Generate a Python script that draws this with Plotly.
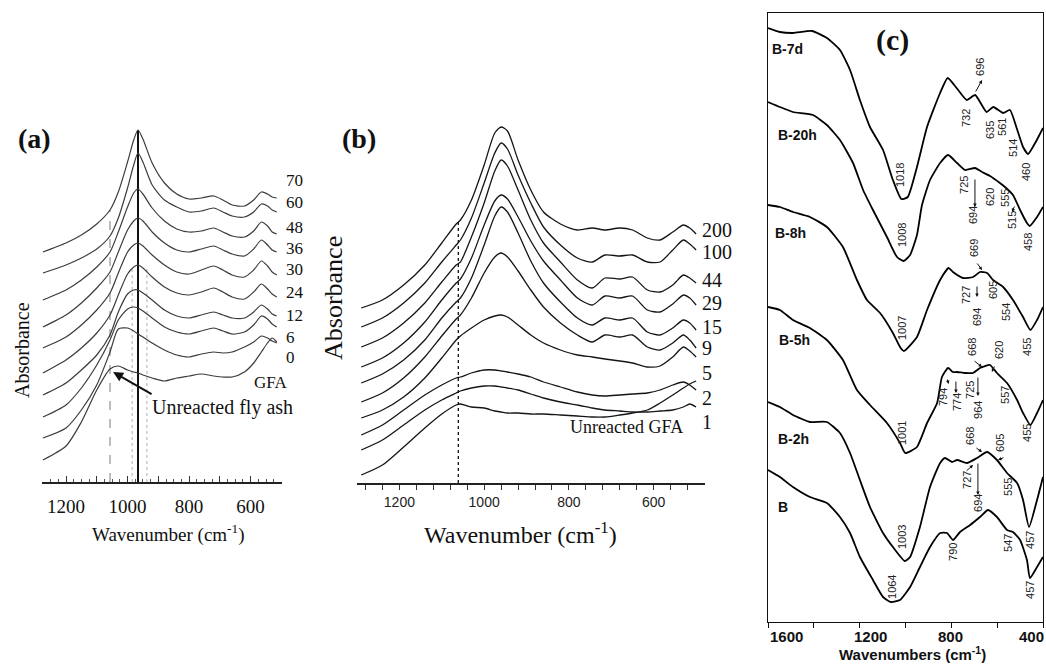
import plotly.graph_objects as go

SERIF = "Liberation Serif"
SANS = "Liberation Sans"
W, H = 1046, 664

# ---------------- Panel (a): absorbance (stacked, arbitrary units) ----------------
a_wavenumber = [1275, 1200, 1150, 1100, 1057, 1030, 1000, 980, 966, 950, 920, 880, 840, 800,
                760, 720, 690, 660, 620, 590, 565, 545, 530, 515]
a_70 = [230, 239, 247, 258, 272, 290, 320, 342, 352, 343, 319, 299, 288, 283, 284, 286, 282, 277, 276, 282, 290, 288, 285, 284]
a_60 = [209, 217, 224, 233, 246, 264, 294, 317, 329, 320, 297, 282, 275, 270, 271, 274, 270, 266, 265, 270, 278, 276, 272, 270]
a_48 = [182, 192, 202, 215, 230, 250, 275, 289, 293, 288, 274, 261, 253, 250, 251, 254, 250, 246, 245, 251, 260, 256, 250, 248]
a_36 = [155, 167, 179, 194, 210, 230, 252, 261, 264, 261, 250, 239, 232, 230, 233, 236, 232, 228, 226, 233, 242, 237, 232, 230]
a_30 = [134, 145, 157, 172, 189, 209, 230, 237, 239, 236, 227, 217, 210, 208, 212, 216, 212, 207, 205, 212, 221, 216, 210, 207]
a_24 = [109, 122, 134, 149, 167, 187, 208, 215, 217, 214, 205, 195, 189, 187, 190, 194, 190, 185, 183, 190, 198, 193, 188, 185]
a_12 = [87, 99, 112, 127, 147, 170, 188, 192, 192, 189, 182, 172, 166, 164, 167, 170, 167, 164, 164, 170, 177, 173, 168, 166]
a_6 = [65, 77, 94, 117, 142, 162, 173, 175, 174, 171, 164, 155, 150, 148, 151, 154, 151, 148, 150, 157, 166, 163, 158, 155]
a_0 = [44, 54, 72, 97, 130, 153, 154, 151, 148, 145, 139, 132, 127, 125, 128, 130, 129, 130, 135, 140, 146, 144, 141, 139]
a_gfa = [22, 36, 60, 92, 113, 116, 112, 110, 109, 107, 104, 101, 104, 106, 108, 106, 105, 105, 110, 119, 130, 139, 144, 140]
a_names = ["70", "60", "48", "36", "30", "24", "12", "6", "0"]
a_ref_wn = [966, 1057, 985, 937]
a_ref_top = [352, 272, 215, 215]

# ---------------- Panel (b) ----------------
b_wavenumber = [1290, 1240, 1190, 1140, 1100, 1066, 1056, 1030, 1000, 975, 960, 945, 920, 890,
                860, 820, 780, 745, 715, 680, 650, 615, 585, 555, 530, 515, 500]
b_200 = [175, 183, 198, 218, 240, 259, 263, 283, 318, 350, 356, 352, 323, 293, 271, 259, 253, 255, 253, 255, 253, 245, 243, 251, 258, 255, 249]
b_100 = [156, 165, 180, 200, 221, 238, 243, 265, 300, 330, 340, 334, 308, 280, 256, 238, 225, 221, 228, 227, 228, 221, 221, 233, 243, 239, 233]
b_44 = [136, 145, 160, 180, 201, 218, 221, 246, 280, 312, 323, 317, 293, 263, 240, 221, 203, 195, 205, 204, 206, 193, 191, 198, 208, 205, 200]
b_29 = [116, 125, 140, 161, 183, 200, 204, 225, 258, 282, 288, 284, 266, 242, 222, 203, 185, 178, 187, 185, 187, 173, 171, 179, 188, 185, 178]
b_15 = [100, 109, 123, 143, 165, 181, 185, 205, 238, 267, 276, 271, 250, 222, 200, 181, 165, 158, 165, 163, 165, 151, 148, 155, 163, 160, 153]
b_9 = [81, 90, 105, 126, 147, 164, 168, 185, 210, 226, 230, 226, 212, 193, 176, 160, 148, 141, 148, 146, 148, 136, 133, 140, 148, 143, 135]
b_5 = [65, 73, 86, 105, 125, 143, 147, 155, 163, 167, 168, 166, 158, 148, 140, 133, 128, 126, 124, 122, 120, 116, 117, 126, 136, 132, 126]
b_2 = [48, 58, 73, 88, 98, 105, 106, 110, 113, 113, 112, 111, 109, 106, 101, 96, 91, 88, 87, 88, 89, 90, 93, 98, 101, 98, 93]
b_1 = [33, 43, 58, 73, 83, 90, 92, 95, 97, 97, 96, 95, 93, 89, 85, 81, 78, 75, 73, 72, 71, 71, 72, 73, 76, 79, 76]
b_gfa = [8, 18, 36, 55, 69, 78, 79, 76, 75, 72, 71, 70, 70, 69, 69, 68, 67, 66, 66, 68, 70, 73, 80, 88, 95, 99, 102]
b_names = ["200", "100", "44", "29", "15", "9", "5", "2", "1"]
b_ref_wn = [1061]
b_ref_top = [261]

# ---------------- Panel (c): transmittance (stacked, arbitrary units) ----------------
c_b7d_wn = [1600, 1548, 1491, 1408, 1343, 1286, 1242, 1199, 1155, 1098, 1055, 1018, 990, 950, 906,
            849, 816, 777, 733, 696, 646, 617, 574, 544, 515, 487, 465, 427, 400]
c_b7d_t = [594, 590, 589, 591, 584, 572, 552, 522, 495, 472, 442, 423, 425, 455, 495,
           529, 544, 534, 522, 527, 510, 515, 509, 512, 494, 475, 468, 482, 494]
c_b20h_wn = [1600, 1548, 1491, 1404, 1343, 1286, 1229, 1185, 1142, 1081, 1037, 1008, 980, 950, 928,
             893, 849, 814, 775, 740, 697, 666, 631, 588, 561, 531, 500, 470, 458, 426, 400]
c_b20h_t = [520, 515, 510, 507, 497, 482, 459, 432, 412, 385, 365, 361, 367, 387, 417,
            442, 459, 467, 459, 452, 454, 450, 446, 439, 434, 427, 412, 399, 396, 405, 415]
c_b8h_wn = [1600, 1548, 1491, 1417, 1343, 1273, 1212, 1168, 1111, 1055, 1024, 1007, 950, 906,
            849, 812, 793, 749, 705, 675, 644, 618, 574, 531, 487, 455, 426, 400]
c_b8h_t = [417, 415, 410, 405, 395, 375, 342, 322, 309, 289, 275, 271, 285, 312,
           342, 354, 350, 344, 345, 350, 349, 342, 335, 322, 305, 292, 302, 315]
c_b5h_wn = [1600, 1548, 1491, 1417, 1343, 1273, 1212, 1155, 1081, 1024, 1001, 950, 906, 862, 841,
            814, 794, 775, 740, 705, 675, 631, 601, 557, 513, 487, 455, 426, 400]
c_b5h_t = [315, 312, 302, 294, 282, 262, 232, 217, 199, 179, 169, 175, 199, 219, 245,
           254, 250, 250, 249, 249, 254, 257, 249, 239, 222, 209, 197, 209, 222]
c_b2h_wn = [1600, 1548, 1491, 1417, 1343, 1286, 1242, 1199, 1155, 1098, 1055, 1003, 980, 937, 893,
            849, 828, 797, 775, 732, 688, 644, 601, 557, 513, 487, 461, 426, 400]
c_b2h_t = [220, 215, 207, 200, 200, 189, 169, 142, 115, 89, 75, 61, 65, 95, 135,
           159, 164, 160, 162, 159, 164, 170, 162, 149, 139, 122, 95, 122, 145]
c_b_wn = [1600, 1548, 1491, 1417, 1343, 1286, 1242, 1199, 1142, 1098, 1064, 1024, 980, 937, 893,
          849, 819, 793, 762, 718, 675, 640, 601, 557, 531, 500, 470, 457, 426, 400]
c_b_t = [152, 145, 135, 125, 119, 105, 89, 65, 42, 25, 20, 22, 35, 55, 75,
         89, 89, 82, 90, 97, 105, 112, 105, 92, 90, 82, 62, 44, 55, 65]
c_names = ["B-7d", "B-20h", "B-8h", "B-5h", "B-2h", "B"]
c_band_labels = ["1018", "732", "696", "635", "561", "514", "460",
                 "1008", "725", "694", "620", "555", "515", "458",
                 "1007", "669", "727", "694", "605", "554", "455",
                 "1001", "668", "620", "794", "774", "725", "964", "557", "455",
                 "1003", "668", "605", "727", "694", "555", "457",
                 "1064", "790", "547", "457"]
c_tick_labels = ["1600", "1200", "800", "400"]

fig = go.Figure()

def line_trace(x, y, xa, ya, color, width, shape="spline", smoothing=0.7, dash="solid"):
    fig.add_trace(go.Scatter(x=x, y=y, mode="lines", xaxis=xa, yaxis=ya, showlegend=False,
                             hoverinfo="skip",
                             line=dict(color=color, width=width, shape=shape,
                                       smoothing=smoothing if shape == "spline" else None,
                                       dash=dash)))

# panel (a)
ref_styles_a = [("#111111", 2.0, "solid"), ("#9a9a9a", 1.3, "dash"),
                ("#b0b0b0", 1.0, "dot"), ("#b0b0b0", 1.0, "dot")]
for wn, top, (col, wd, ds) in zip(a_ref_wn, a_ref_top, ref_styles_a):
    line_trace([wn, wn], [0, top], "x", "y", col, wd, shape="linear", dash=ds)
for ys in [a_70, a_60, a_48, a_36, a_30, a_24, a_12, a_6, a_0, a_gfa]:
    line_trace(a_wavenumber, ys, "x", "y", "#3c3c3c", 1.2)

# panel (b)
for wn, top in zip(b_ref_wn, b_ref_top):
    line_trace([wn, wn], [0, top], "x2", "y2", "#111111", 1.3, shape="linear", dash="dot")
for ys in [b_200, b_100, b_44, b_29, b_15, b_9, b_5, b_2, b_1, b_gfa]:
    line_trace(b_wavenumber, ys, "x2", "y2", "#151515", 1.3)

# panel (c)
for xs, ys in [(c_b7d_wn, c_b7d_t), (c_b20h_wn, c_b20h_t), (c_b8h_wn, c_b8h_t),
               (c_b5h_wn, c_b5h_t), (c_b2h_wn, c_b2h_t), (c_b_wn, c_b_t)]:
    line_trace(xs, ys, "x3", "y3", "#000000", 1.8, smoothing=0.5)

ann = []

def px(x):
    return x / W

def py(y):
    return 1 - y / H

def ptext(text, x, y, size, family=SERIF, angle=0, color="#111", xanchor="center"):
    ann.append(dict(text=text, x=px(x), y=py(y), xref="paper", yref="paper", showarrow=False,
                    font=dict(family=family, size=size, color=color), textangle=angle,
                    xanchor=xanchor, yanchor="middle"))

def dtext(text, x, y, axn, size, family=SERIF, angle=0, color="#111", xanchor="center"):
    ann.append(dict(text=text, x=x, y=y, xref="x" + axn, yref="y" + axn, showarrow=False,
                    font=dict(family=family, size=size, color=color), textangle=angle,
                    xanchor=xanchor, yanchor="middle"))

def darrow(x0, y0, x1, y1, axn, width=1.0, head=2, size=0.8):
    ann.append(dict(text="", x=x1, y=y1, ax=x0, ay=y0, xref="x" + axn, yref="y" + axn,
                    axref="x" + axn, ayref="y" + axn, showarrow=True, arrowhead=head,
                    arrowsize=size, arrowwidth=width, arrowcolor="#111"))

# --- panel (a) texts
ptext("<b>(a)</b>", 34, 139, 28)
ptext("Absorbance", 22, 350, 20, angle=-90)
ptext("Wavenumber (cm<sup>-1</sup>)", 168, 533, 19)
a_label_y = [180, 202, 227, 248, 270, 293, 315, 337, 357]
for name, yv in zip(a_names, a_label_y):
    ptext(name, 284, yv, 17, xanchor="left")
ptext("GFA", 270, 382, 17)
ptext("Unreacted fly ash", 222, 407, 20)
darrow(917, 87, 1047, 110, "", width=2, head=2, size=1)

# --- panel (b) texts
ptext("<b>(b)</b>", 359, 138, 28)
ptext("Absorbance", 333, 298, 26, angle=-90)
ptext("Wavenumber (cm<sup>-1</sup>)", 520, 533, 24)
b_label_y = [230, 252, 280, 303, 327, 348, 373, 398, 422]
for name, yv in zip(b_names, b_label_y):
    ptext(name, 700, yv, 20, xanchor="left")
ptext("Unreacted GFA", 626, 427, 18)

# --- panel (c) texts
ptext("<b>(c)</b>", 892, 40, 30)
ptext("<b>Wavenumbers (cm<sup>-1</sup>)</b>", 912, 653, 15, family=SANS)
for lab, xv, anc in zip(c_tick_labels, [768, 870, 950, 1046], ["left", "center", "center", "right"]):
    ptext("<b>" + lab + "</b>", xv, 636, 15, family=SANS, xanchor=anc)
c_name_pos = [(1513, 573), (1473, 487), (1504, 389), (1486, 282), (1490, 183), (1535, 115)]
for name, (xv, yv) in zip(c_names, c_name_pos):
    dtext("<b>" + name + "</b>", xv, yv, "3", 14, family=SANS)
c_band_pos = [(1024, 447), (736, 504), (675, 555), (631, 492), (579, 495), (531, 474), (474, 450),
              (1015, 387), (745, 437), (705, 407), (631, 425), (566, 424), (535, 402), (465, 380),
              (1015, 294), (701, 374), (736, 327), (688, 305), (618, 332), (561, 310), (470, 275),
              (1015, 189), (710, 275), (592, 272), (836, 225), (775, 220), (719, 232), (684, 212), (566, 227), (470, 189),
              (1015, 85), (719, 186), (588, 179), (732, 142), (684, 119), (553, 135), (457, 82),
              (1059, 35), (793, 70), (553, 79), (457, 32)]
for lab, (xv, yv) in zip(c_band_labels, c_band_pos):
    dtext(lab, xv, yv, "3", 11, family=SANS, angle=-90, color="#222")
c_arrows = [(697, 529, 666, 542), (697, 444, 697, 415), (522, 417, 535, 410),
            (692, 360, 666, 352), (688, 337, 688, 325), (705, 262, 666, 255),
            (609, 257, 623, 250), (819, 244, 812, 238), (780, 242, 780, 229),
            (684, 246, 684, 226), (697, 175, 666, 170), (566, 165, 596, 162),
            (740, 150, 705, 157), (684, 160, 684, 127)]
for x0, y0, x1, y1 in c_arrows:
    darrow(x0, y0, x1, y1, "3", width=1.0, head=2, size=0.7)

a_ticks = [1200, 1100, 1000, 900, 800, 700, 600, 500]
b_ticks = list(range(1280, 519, -40))
c_ticks = list(range(1600, 399, -200))

fig.update_layout(
    width=W, height=H, margin=dict(l=0, r=0, t=0, b=0, autoexpand=False),
    paper_bgcolor="white", plot_bgcolor="white", showlegend=False,
    annotations=ann,
    xaxis=dict(domain=[px(42), px(282)], range=[1278, 498], anchor="y", automargin=False,
               showline=True, linecolor="#222", linewidth=1.5, ticks="inside", ticklen=6,
               tickcolor="#333", tickmode="array", tickvals=a_ticks,
               ticktext=[str(t) if t % 200 == 0 else "" for t in a_ticks],
               tickfont=dict(family=SERIF, size=19, color="#111"), ticklabelstandoff=6,
               minor=dict(ticks="inside", ticklen=3, tickmode="linear", tick0=0, dtick=25,
                          tickcolor="#555", showgrid=False),
               showgrid=False, zeroline=False),
    yaxis=dict(domain=[py(482), py(120)], range=[0, 362], visible=False, automargin=False),
    xaxis2=dict(domain=[px(357), px(705)], range=[1300, 479], anchor="y2", automargin=False,
                showline=True, linecolor="#222", linewidth=1.5, ticks="outside", ticklen=5,
                tickcolor="#333", tickmode="array", tickvals=b_ticks,
                ticktext=[str(t) if t % 200 == 0 else "" for t in b_ticks],
                tickfont=dict(family=SANS, size=14, color="#222"),
                showgrid=False, zeroline=False),
    yaxis2=dict(domain=[py(483), py(120)], range=[0, 363], visible=False, automargin=False),
    xaxis3=dict(domain=[px(768), px(1043)], range=[1600, 400], anchor="y3", automargin=False,
                showline=True, mirror=True, linecolor="#111", linewidth=1.3,
                ticks="outside", ticklen=5, tickcolor="#111", tickmode="array",
                tickvals=c_ticks, showticklabels=False,
                showgrid=False, zeroline=False),
    yaxis3=dict(domain=[py(622), py(13)], range=[0, 609], anchor="x3", automargin=False,
                showline=True, mirror=True, linecolor="#111", linewidth=1.3,
                ticks="", showticklabels=False, showgrid=False, zeroline=False),
)

fig.write_html("out.html")
